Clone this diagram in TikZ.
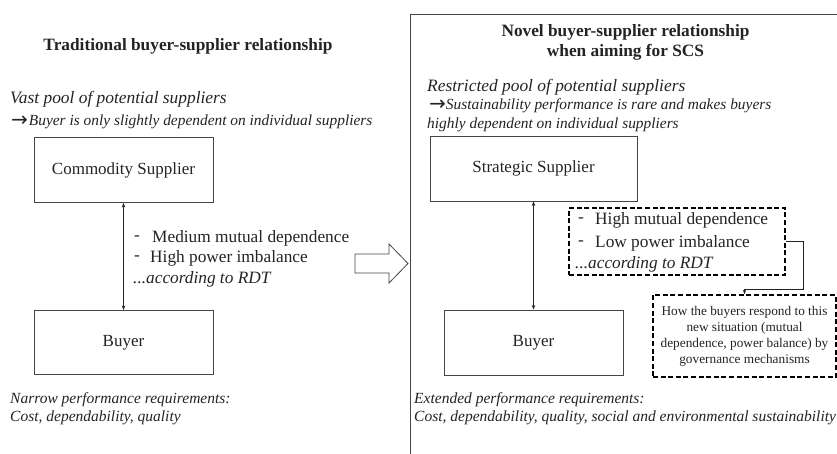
\documentclass[tikz,border=0pt]{standalone}
\usepackage{fontspec}
\setmainfont{Liberation Serif}
\newfontfamily\arrowfont{DejaVu Sans}
\usetikzlibrary{arrows.meta}
\definecolor{ink}{RGB}{35,35,35}
\definecolor{edge}{RGB}{70,70,70}
\newcommand{\pointer}{{\arrowfont\upshape\fontsize{20}{20}\selectfont\raisebox{-0.5pt}{→}}}
\begin{document}
\begin{tikzpicture}[x=1pt,y=-1pt,
  plainbox/.style={draw=edge,line width=0.9pt,minimum height=65pt,inner sep=0pt,font=\fontsize{17}{19}\selectfont,text=ink},
  dbox/.style={draw=black,line width=1.6pt,dash pattern=on 5pt off 2.6pt,inner sep=0pt},
  head/.style={font=\fontsize{17.3}{20}\selectfont\bfseries,text=ink,align=center},
  note/.style={font=\fontsize{17.4}{19}\selectfont\itshape,text=ink,anchor=west,inner sep=0pt},
  small/.style={font=\fontsize{15.4}{17}\selectfont\itshape,text=ink,anchor=west,inner sep=0pt},
  req/.style={font=\fontsize{15.5}{17}\selectfont\itshape,text=ink,anchor=west,inner sep=0pt},
  item/.style={font=\fontsize{17.3}{19}\selectfont,text=ink,anchor=west,inner sep=0pt},
  tip/.style={-{Stealth[length=4.5pt,width=3.5pt]}},
  both/.style={{Stealth[length=4.5pt,width=3.5pt]}-{Stealth[length=4.5pt,width=3.5pt]}}
]
\useasboundingbox (0,0) rectangle (837,453);

% ---------- traditional relationship ----------
\node[head] (t1) at (188,46) {Traditional buyer-supplier relationship};
\node[note] (vast) at (10,99) {Vast pool of potential suppliers};
\node[small] (dep1) at (11,122) {\pointer\kern1pt Buyer is only slightly dependent on individual suppliers};

\node[plainbox,minimum width=179pt] (cs) at (123.5,170) {Commodity Supplier};
\node[plainbox,minimum width=179pt,minimum height=64pt] (b1) at (123.5,342.5) {Buyer};
\draw[both,draw=ink,line width=0.8pt] (cs.south) -- (b1.north);

\node[item] (d1a) at (134,238) {-};
\node[item] (l1a) at (152,238) {Medium mutual dependence};
\node[item] (d1b) at (134,258) {-};
\node[item] (l1b) at (150,258) {High power imbalance};
\node[item,font=\fontsize{17.3}{19}\selectfont\itshape] (l1c) at (133,279) {...according to RDT};

\node[req] (nar) at (10,400) {Narrow performance requirements:};
\node[req] (nar2) at (10,418) {Cost, dependability, quality};

% ---------- transition arrow ----------
\draw[draw=edge,line width=0.8pt,fill=white] (355,254) -- (389,254) -- (389,244) -- (408,263.5) -- (389,283) -- (389,273) -- (355,273) -- cycle;

% ---------- novel relationship ----------
\draw[draw=edge,line width=0.9pt] (840,14) -- (410,14) -- (410,456);
\node[head] (t2) at (625.5,42) {Novel buyer-supplier relationship\\when aiming for SCS};
\node[note] (restr) at (427,87) {Restricted pool of potential suppliers};
\node[small] (sus) at (429,106) {\pointer Sustainability performance is rare and makes buyers};
\node[small] (high) at (427,125) {highly dependent on individual suppliers};

\node[plainbox,minimum width=207pt] (ss) at (533.5,168.5) {Strategic Supplier};
\node[plainbox,minimum width=179pt] (b2) at (533.5,342.5) {Buyer};
\draw[both,draw=ink,line width=0.8pt] (ss.south) -- (b2.north);

\node[dbox,minimum width=216pt,minimum height=67pt] (rdt) at (677,241.5) {};
\node[item] (d2a) at (578,220) {-};
\node[item] (l2a) at (595,220) {High mutual dependence};
\node[item] (d2b) at (578,243) {-};
\node[item] (l2b) at (595,243) {Low power imbalance};
\node[item,font=\fontsize{17.3}{19}\selectfont\itshape] (l2c) at (575,264) {...according to RDT};

\node[dbox,minimum width=183pt,minimum height=82pt,font=\fontsize{13.3}{16}\selectfont,text=ink,align=center] (gov) at (744.5,336)
  {How the buyers respond to this\\new situation (mutual\\dependence, power balance) by\\governance mechanisms};
\draw[tip,draw=ink,line width=0.8pt] (rdt.east) -- ++(18,0) -- ++(0,48) -| (gov.north);

\node[req] (ext) at (414,400) {Extended performance requirements:};
\node[req] (ext2) at (414,418) {Cost, dependability, quality, social and environmental sustainability};
\end{tikzpicture}
\end{document}
